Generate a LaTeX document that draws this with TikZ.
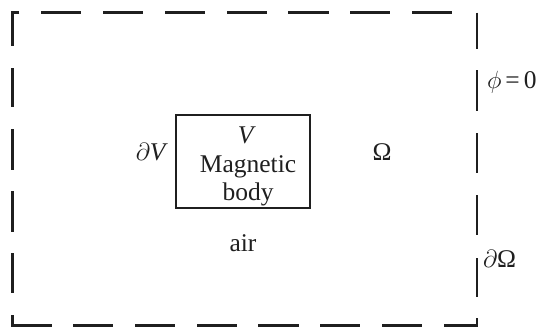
\documentclass[tikz,border=0pt]{standalone}
\usepackage{fontspec}
\setmainfont{Liberation Serif}
\begin{document}
\begin{tikzpicture}[x=1pt,y=-1pt,
  bound/.style={line width=2.5pt,draw=black!88,line cap=butt,line join=miter},
  body/.style={line width=2.3pt,draw=black!88},
  lbl/.style={inner sep=0pt,outer sep=0pt,font=\fontsize{25.5}{30}\selectfont,text=black!88}]
\useasboundingbox (0,0) rectangle (538,327);
% outer dashed boundary
\draw[bound] (19.3,12.7) -- (12.3,12.7) -- (12.3,46);
\foreach \a/\b in {41/81,103/143,165/205,227/267,288/329,350/390,412/452}
  \draw[bound] (\a,12.7) -- (\b,12.7);
\draw[bound] (477,12.7) -- (477,49);
\foreach \a/\b in {68/107,129/170,191/232,253/293}
  \draw[bound] (12.3,\a) -- (12.3,\b);
\draw[bound] (12.3,315) -- (12.3,325.6) -- (51.5,325.6);
\foreach \a/\b in {73/113,135/175,197/237,258/299,320/360,382/422}
  \draw[bound] (\a,325.6) -- (\b,325.6);
\draw[bound] (444,325.6) -- (477,325.6) -- (477,318);
\foreach \a/\b in {70/111,133/173,195/235,258/297}
  \draw[bound] (477,\a) -- (477,\b);
% magnetic body
\draw[body] (176,115) rectangle (310,208);
\node[lbl,anchor=base] (v) at (247,143) {\textit{V}};
\node[lbl,anchor=base] (mag) at (248,172) {Magnetic};
\node[lbl,anchor=base] (bod) at (248,200) {body};
\node[lbl,anchor=base east] (dv) at (168,160) {$\partial$\textit{V}};
\node[lbl,anchor=base] (om) at (382,160) {Ω};
\node[lbl,anchor=base] (air) at (243,251) {air};
\node[lbl,anchor=base west] (phi) at (487,88) {$\phi$\hspace{4pt}=\hspace{4pt}0};
\node[lbl,anchor=base west] (dom) at (483,267) {$\partial$Ω};
\end{tikzpicture}
\end{document}
